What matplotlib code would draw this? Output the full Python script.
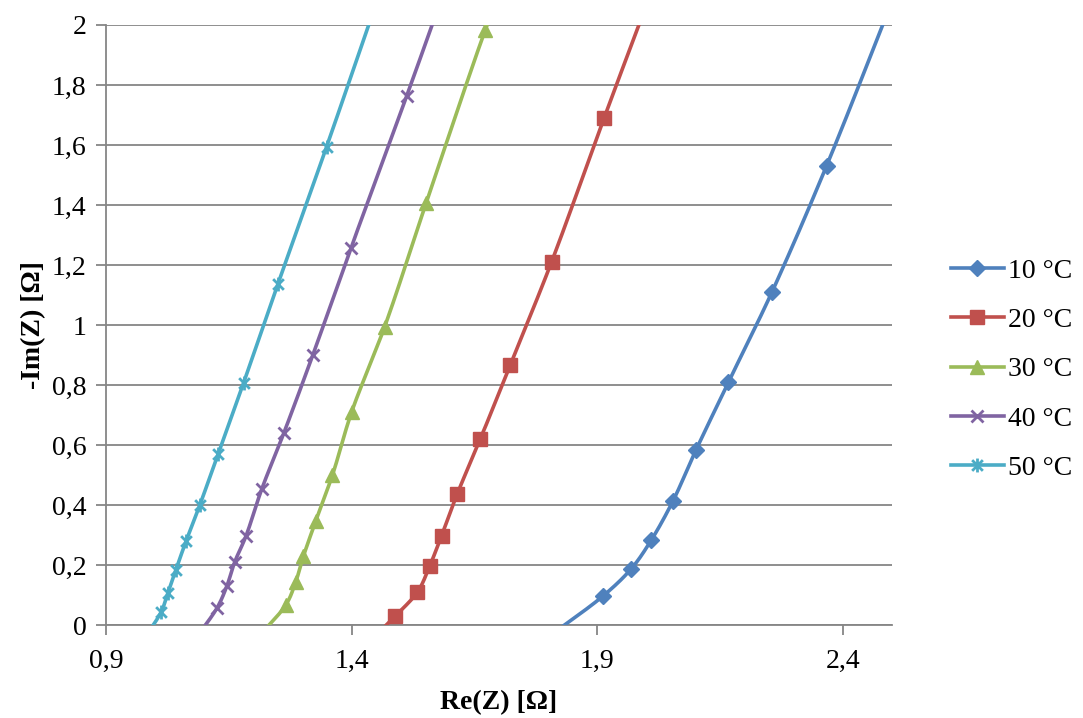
import numpy as np
import matplotlib.pyplot as plt
from matplotlib.path import Path

# Nyquist data, Re(Z) and -Im(Z) in ohm, per temperature
re_10 = [1.80, 1.912, 1.969, 2.010, 2.054, 2.101, 2.167, 2.256, 2.367, 2.51]
im_10 = [-0.04, 0.097, 0.187, 0.283, 0.413, 0.583, 0.809, 1.111, 1.531, 2.12]

re_20 = [1.44, 1.489, 1.534, 1.559, 1.583, 1.615, 1.662, 1.723, 1.807, 1.914, 2.01]
im_20 = [-0.05, 0.030, 0.110, 0.197, 0.297, 0.437, 0.620, 0.867, 1.210, 1.690, 2.11]

re_30 = [1.21, 1.266, 1.286, 1.302, 1.327, 1.361, 1.400, 1.467, 1.552, 1.672, 1.70]
im_30 = [-0.04, 0.067, 0.143, 0.230, 0.347, 0.500, 0.710, 0.993, 1.408, 1.983, 2.10]

re_40 = [1.08, 1.126, 1.146, 1.162, 1.185, 1.217, 1.262, 1.321, 1.399, 1.512, 1.59]
im_40 = [-0.05, 0.057, 0.130, 0.210, 0.297, 0.453, 0.640, 0.900, 1.258, 1.763, 2.12]

re_50 = [0.98, 1.012, 1.026, 1.042, 1.063, 1.091, 1.128, 1.180, 1.250, 1.349, 1.46]
im_50 = [-0.04, 0.043, 0.107, 0.183, 0.280, 0.400, 0.570, 0.807, 1.137, 1.594, 2.12]

labels = ["10 °C", "20 °C", "30 °C", "40 °C", "50 °C"]
colors = ["#4F81BD", "#C0504D", "#9BBB59", "#8064A2", "#4BACC6"]

# star marker: an x with a vertical bar through it
star = Path([(-1, -1), (1, 1), (-1, 1), (1, -1), (0, -1.3), (0, 1.3)],
            [Path.MOVETO, Path.LINETO, Path.MOVETO, Path.LINETO, Path.MOVETO, Path.LINETO])
markers = ["D", "s", "^", "x", star]
msizes = [8, 10, 10, 9, 10]


def smooth(xs, ys, n=24, alpha=0.5):
    # centripetal Catmull-Rom curve through the points (no overshoot on uneven spacing)
    p = np.column_stack([xs, ys]).astype(float)
    p = np.vstack([2 * p[0] - p[1], p, 2 * p[-1] - p[-2]])
    out = []
    for i in range(1, len(p) - 2):
        p0, p1, p2, p3 = p[i - 1], p[i], p[i + 1], p[i + 2]
        t0 = 0.0
        t1 = t0 + np.linalg.norm(p1 - p0) ** alpha
        t2 = t1 + np.linalg.norm(p2 - p1) ** alpha
        t3 = t2 + np.linalg.norm(p3 - p2) ** alpha
        t = np.linspace(t1, t2, n, endpoint=False)[:, None]
        a1 = (t1 - t) / (t1 - t0) * p0 + (t - t0) / (t1 - t0) * p1
        a2 = (t2 - t) / (t2 - t1) * p1 + (t - t1) / (t2 - t1) * p2
        a3 = (t3 - t) / (t3 - t2) * p2 + (t - t2) / (t3 - t2) * p3
        b1 = (t2 - t) / (t2 - t0) * a1 + (t - t0) / (t2 - t0) * a2
        b2 = (t3 - t) / (t3 - t1) * a2 + (t - t1) / (t3 - t1) * a3
        out.append((t2 - t) / (t2 - t1) * b1 + (t - t1) / (t2 - t1) * b2)
    out.append(p[-2][None, :])
    c = np.vstack(out)
    return c[:, 0], c[:, 1]


plt.rcParams['font.family'] = ['Liberation Serif', 'DejaVu Serif']

fig = plt.figure(figsize=(10.83, 7.18), dpi=100)
ax = fig.add_axes([0.0979, 0.1295, 0.7257, 0.8357])

series = [(re_10, im_10), (re_20, im_20), (re_30, im_30), (re_40, im_40), (re_50, im_50)]
handles = []
for (xs, ys), lab, col, mk, ms in zip(series, labels, colors, markers, msizes):
    sx, sy = smooth(xs, ys)
    ax.plot(sx, sy, color=col, lw=2.6, zorder=3)
    mew = 2 if (mk == "x" or mk is star) else 1
    ax.plot(xs, ys, ls="none", marker=mk, ms=ms, color=col, mec=col, mew=mew, zorder=4)
    # legend proxy
    h, = ax.plot([], [], color=col, lw=2.6, marker=mk, ms=ms, mec=col, mew=mew, label=lab)
    handles.append(h)

ax.set_xlim(0.9, 2.5)
ax.set_ylim(0, 2)
ax.set_xticks([0.9, 1.4, 1.9, 2.4])
ax.set_yticks(np.arange(0, 2.01, 0.2))
ax.set_xticklabels(["0,9", "1,4", "1,9", "2,4"])
ax.set_yticklabels(["0", "0,2", "0,4", "0,6", "0,8", "1", "1,2", "1,4", "1,6", "1,8", "2"])

ax.grid(axis="y", color="#868686", lw=1.3)
ax.set_axisbelow(True)
for s in ("top", "right"):
    ax.spines[s].set_visible(False)
for s in ("left", "bottom"):
    ax.spines[s].set_color("#868686")
    ax.spines[s].set_linewidth(1.3)
ax.tick_params(colors="#868686", width=1.3, length=7, labelcolor="black", labelsize=20)
ax.tick_params(axis="x", pad=10)
ax.tick_params(axis="y", pad=7)

ax.set_xlabel("Re(Z) [Ω]", fontsize=20, fontweight="bold", labelpad=12)
ax.set_ylabel("-Im(Z) [Ω]", fontsize=20, fontweight="bold", labelpad=4)

fig.legend(handles, labels, loc="center left", bbox_to_anchor=(0.878, 0.485), frameon=False,
           fontsize=20, handlelength=1.9, labelspacing=0.86, handletextpad=0.15,
           borderpad=0, borderaxespad=0)

fig.savefig("out.png", dpi=100)
